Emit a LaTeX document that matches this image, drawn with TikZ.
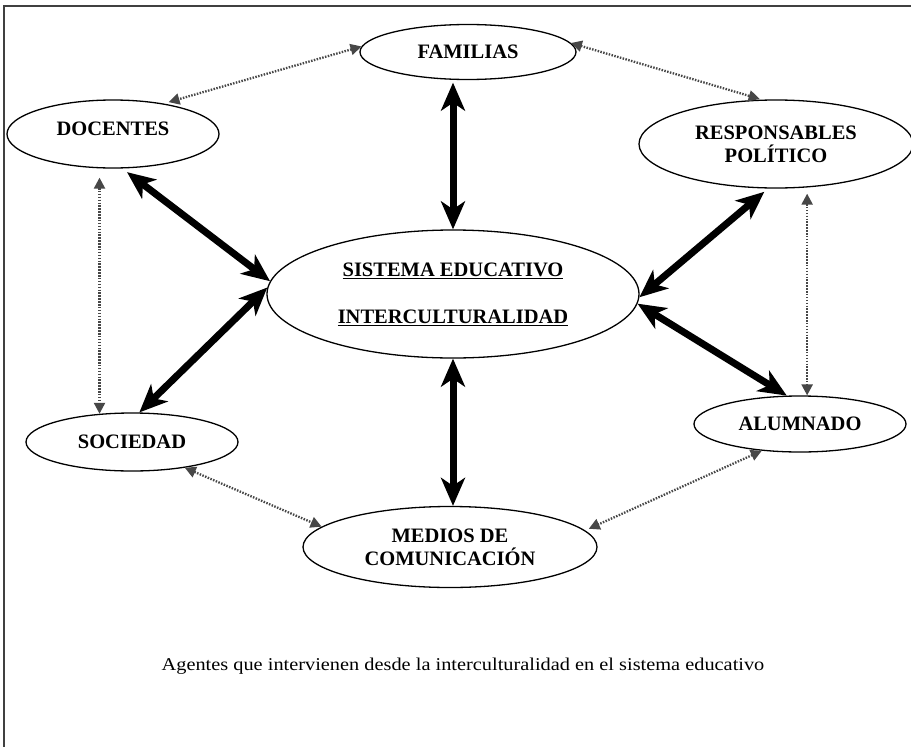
\documentclass[tikz,border=0pt]{standalone}
\usepackage{fontspec}
\setmainfont{Liberation Serif}
\newfontfamily\capfont{Liberation Serif}[FakeStretch=1.13]
\usetikzlibrary{shapes.geometric,arrows.meta}
\begin{document}
\begin{tikzpicture}[x=1pt,y=-1pt,
  agent/.style={ellipse,draw=black,line width=1.3pt,inner sep=0pt,align=center,
    font=\fontsize{20.5}{23}\selectfont\bfseries},
  strong/.style={line width=7pt,draw=black,
    {Stealth[length=28pt,width=24pt,inset=8pt]}-{Stealth[length=28pt,width=24pt,inset=8pt]}},
  weak/.style={line width=2.3pt,draw=black!72,dash pattern=on 1.5pt off 1.4pt,
    {Triangle[length=11pt,width=11pt]}-{Triangle[length=11pt,width=11pt]}},
  framestyle/.style={line width=1.5pt,draw=black!75}
]
\useasboundingbox (0,0) rectangle (911,747);
\draw[framestyle] (4,747) -- (4,6) -- (911,6);

\node[agent,minimum width=216pt,minimum height=55pt] (fam) at (468,52) {FAMILIAS};
\node[agent,minimum width=212pt,minimum height=68pt,text depth=11pt] (doc) at (113,134) {DOCENTES};
\node[agent,minimum width=274pt,minimum height=88pt] (resp) at (776,144) {RESPONSABLES\\POLÍTICO};
\node[agent,minimum width=372pt,minimum height=128pt] (sis) at (453,294)
  {\underline{SISTEMA EDUCATIVO}\\[24pt]\underline{INTERCULTURALIDAD}};
\node[agent,minimum width=212pt,minimum height=58pt] (soc) at (132,442) {SOCIEDAD};
\node[agent,minimum width=212pt,minimum height=56pt] (alu) at (800,424) {ALUMNADO};
\node[agent,minimum width=294pt,minimum height=81pt] (med) at (450,547) {MEDIOS DE\\COMUNICACIÓN};

\draw[strong,shorten >=2.5pt] (sis.north) -- (sis.north |- fam.south);
\draw[strong] (sis.south) -- (sis.south |- med.north);
\draw[strong,shorten >=6pt] (sis.176) -- (doc.-75);
\draw[strong] (sis.178) -- (soc.76);
\draw[strong,shorten >=5pt] (sis.-1) -- (resp.-100);
\draw[strong] (sis.-3) -- (alu.115);

\draw[weak,shorten >=5pt] (fam.177) -- (doc.31);
\draw[weak,shorten >=2pt] (fam.5) -- (resp.108);
\draw[weak,shorten <=9pt] (soc.139 |- doc.south) -- (soc.139);
\draw[weak,shorten <=5pt] (alu.76 |- resp.south) -- (alu.76);
\draw[weak] (soc.-26) -- (med.171);
\draw[weak,shorten >=4pt] (alu.-145) -- (med.7);

\node[font=\capfont\fontsize{18}{22}\selectfont] (cap) at (463,666)
  {Agentes que intervienen desde la interculturalidad en el sistema educativo};
\end{tikzpicture}
\end{document}
